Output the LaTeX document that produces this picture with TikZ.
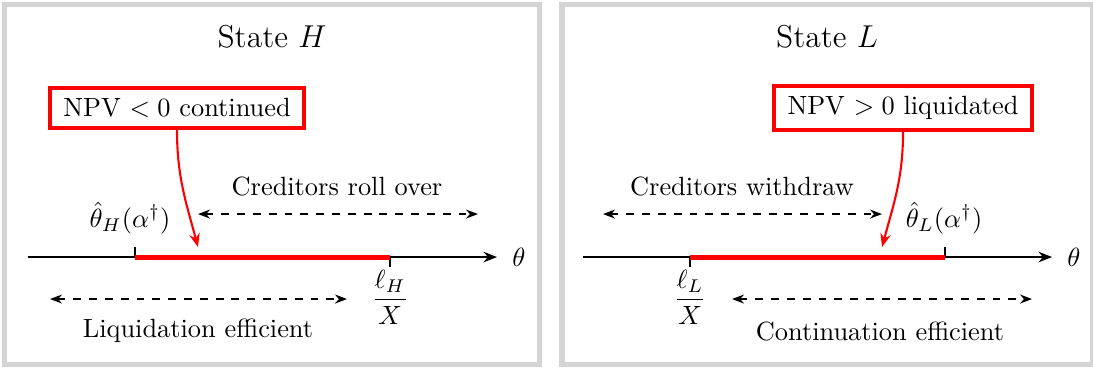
\documentclass[tikz,border=0pt]{standalone}
\usepackage{tikz}
\usetikzlibrary{arrows.meta, positioning}
\usepackage{amsmath}
\definecolor{cFrame}{RGB}{212,212,212}
\definecolor{cRed}{RGB}{255,0,0}

\begin{document}
\begin{tikzpicture}[
            frm/.style={draw=cFrame, line width=1.9pt},
            tag/.style={draw=cRed, line width=1.5pt, inner xsep=5pt, inner ysep=4pt},
            ax/.style={-{Stealth[length=1.8mm, width=1.4mm]}, line width=1pt},
            seg/.style={draw=cRed, line width=1.9pt},
            tk/.style={line width=0.6pt},
            pt/.style={-{Stealth[length=1.8mm, width=1.4mm]}, draw=cRed, line width=0.8pt},
            rng/.style={{Stealth[length=1.6mm, width=1.2mm]}-{Stealth[length=1.6mm, width=1.2mm]}, dashed, semithick}]
            \useasboundingbox (0,0) rectangle (14.573,4.907);
            \draw[frm] (0.06,0.053) rectangle (7.193,4.847);
            \draw[frm] (7.493,0.053) rectangle (14.56,4.847);
            % state H
            \node[font=\large] (ttlH) at (3.627,4.413) {State $H$};
            \node[tag] (npvH) at (2.36,3.467) {NPV $<0$ continued};
            \coordinate (aH0) at (0.373,1.48);
            \coordinate (aH1) at (6.627,1.48);
            \coordinate (tH1) at (1.8,1.48);
            \coordinate (tH2) at (5.2,1.48);
            \draw[ax] (aH0) -- (aH1) node[right=2pt] {$\theta$};
            \draw[tk] (tH1) -- ++(0,0.133);
            \draw[tk] (tH2) -- ++(0,-0.133);
            \draw[seg] (tH1) -- (tH2);
            \node (thH) at (1.733,2.0) {$\hat{\theta}_H(\alpha^\dagger)$};
            \coordinate (pH) at (2.64,1.613);
            \draw[pt] (npvH.south) to[out=-90, in=105] (pH);
            \node (crH) at (4.493,2.427) {Creditors roll over};
            \coordinate (rH0) at (2.64,2.053);
            \coordinate (rH1) at (6.373,2.053);
            \draw[rng] (rH0) -- (rH1);
            \node (lH) at (5.2,0.947) {$\dfrac{\ell_H}{X}$};
            \coordinate (qH0) at (0.667,0.92);
            \coordinate (qH1) at (4.627,0.92);
            \draw[rng] (qH0) -- (qH1);
            \node (efH) at (2.64,0.493) {Liquidation efficient};
            % state L
            \begin{scope}[xshift=7.4cm]
                \node[font=\large] (ttlL) at (3.627,4.413) {State $L$};
                \node[tag] (npvL) at (4.64,3.467) {NPV $>0$ liquidated};
                \coordinate (aL0) at (0.373,1.48);
                \coordinate (aL1) at (6.627,1.48);
                \coordinate (tL1) at (1.8,1.48);
                \coordinate (tL2) at (5.2,1.48);
                \draw[ax] (aL0) -- (aL1) node[right=2pt] {$\theta$};
                \draw[tk] (tL1) -- ++(0,-0.133);
                \draw[tk] (tL2) -- ++(0,0.133);
                \draw[seg] (tL1) -- (tL2);
                \node (thL) at (5.187,2.0) {$\hat{\theta}_L(\alpha^\dagger)$};
                \coordinate (pL) at (4.36,1.613);
                \draw[pt] (npvL.south) to[out=-90, in=75] (pL);
                \node (crL) at (2.493,2.427) {Creditors withdraw};
                \coordinate (rL0) at (0.64,2.053);
                \coordinate (rL1) at (4.36,2.053);
                \draw[rng] (rL0) -- (rL1);
                \node (lL) at (1.8,0.947) {$\dfrac{\ell_L}{X}$};
                \coordinate (qL0) at (2.36,0.92);
                \coordinate (qL1) at (6.36,0.92);
                \draw[rng] (qL0) -- (qL1);
                \node (efL) at (4.333,0.493) {Continuation efficient};
            \end{scope}
        \end{tikzpicture}
\end{document}
